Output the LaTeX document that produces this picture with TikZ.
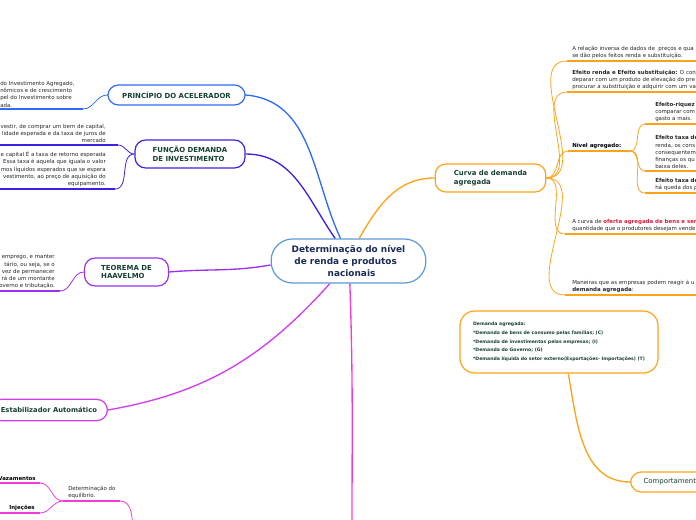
\documentclass[tikz,border=0pt]{standalone}
\usepackage{fontspec}
\setmainfont{DejaVu Sans}
\usetikzlibrary{positioning}

\definecolor{acelblue}{HTML}{2F6BF5}
\definecolor{invviolet}{HTML}{3A22E0}
\definecolor{haavpurple}{HTML}{9B30F0}
\definecolor{estabmag}{HTML}{D23CF0}
\definecolor{pinkmag}{HTML}{F23AD8}
\definecolor{curvorange}{HTML}{FBA31B}
\definecolor{centerblue}{HTML}{5B9BD5}
\definecolor{topicgreen}{HTML}{17402F}
\definecolor{centernavy}{HTML}{1B2A57}
\definecolor{notegray}{HTML}{262626}
\definecolor{ofertared}{HTML}{D8203C}

\tikzset{
  topic/.style={draw, fill=white, rounded corners=8pt, line width=0.9pt, text=topicgreen,
    font=\fontsize{5.2}{6.7}\selectfont\bfseries, align=left, inner sep=0pt},
  note/.style={text=notegray, font=\fontsize{4.1}{5.4}\selectfont, inner sep=0pt},
  uline/.style={line width=1.6pt},
  branch/.style={line width=1pt},
  twig/.style={line width=0.6pt},
}

\begin{document}
\begin{tikzpicture}[x=0.75pt,y=-0.75pt]
\useasboundingbox (0,0) rectangle (696,520);
\clip (0,0) rectangle (696,520);

% central topic
\node[draw=centerblue, fill=white, line width=0.9pt, rounded corners=16pt, minimum width=116pt,
  minimum height=33pt, text=centernavy, font=\fontsize{6.7}{9}\selectfont\bfseries, align=left]
  (ctr) at (348.5,261) {Determinação do nível\\\hspace*{2pt}de renda e produtos\\\hspace*{27pt}nacionais};

% main topics
\node[topic, draw=acelblue, minimum width=103pt, minimum height=15pt, align=center] (acel) at (176.5,95) {PRINCÍPIO DO ACELERADOR};
\node[topic, draw=invviolet, minimum width=82.5pt, minimum height=21pt] (inv) at (190,154) {FUNÇÃO DEMANDA\\DE INVESTIMENTO};
\node[topic, draw=haavpurple, minimum width=63pt, minimum height=21pt] (haav) at (126.5,272) {TEOREMA DE\\HAAVELMO};
\node[topic, draw=estabmag, anchor=east, minimum height=16pt, inner xsep=7.8pt,
  font=\fontsize{5.1}{6.7}\selectfont\bfseries] (estab) at (108,410) {Estabilizador Automático};
\node[topic, draw=curvorange, minimum width=83pt, minimum height=21pt] (curva) at (490.5,178) {Curva de demanda\\agregada};
\node[topic, draw=curvorange, anchor=west, minimum height=15pt, inner xsep=9.75pt,
  font=\fontsize{5.2}{6.7}\selectfont] (comp) at (630,482) {Comportamento};
\node[draw=curvorange, fill=white, line width=0.9pt, rounded corners=11pt, minimum width=148.5pt,
  minimum height=46.5pt, text=topicgreen, font=\fontsize{3.45}{6.5}\selectfont\bfseries, align=left]
  (dem) at (559,342) {Demanda agregada:\\*Demanda de bens de consumo pelas famílias; (C)\\*Demanda de investimentos pelas empresas; (I)\\*Demanda do Governo; (G)\\*Demanda líquida do setor externo(Exportações- Importações) (T)};

% main branches
\draw[branch, acelblue] (acel.east) to[out=-5,in=115] ([xshift=-6pt]ctr.north);
\draw[branch, invviolet] (inv.east) to[out=0,in=125] ([xshift=-10pt]ctr.north);
\draw[branch, haavpurple] (haav.east) to[out=5,in=190] ([yshift=-3pt]ctr.west);
\draw[branch, estabmag] (estab.east) to[out=10,in=228] ([xshift=-14pt]ctr.south);
\coordinate (ctrDown) at (352,530);
\draw[branch, pinkmag] ([xshift=1pt]ctr.south) to[out=-88,in=90] (ctrDown);
\draw[branch, curvorange] ([xshift=8pt]ctr.north) to[out=60,in=180] (curva.west);
\draw[branch, curvorange] ([xshift=7pt]dem.south) to[out=-80,in=180] (comp.west);

% acelerador note
\node[note, anchor=south west, align=left] (acn) at (0,107.5) {do Investimento Agregado,\\nômicos e de crescimento\\pel do Investimento sobre\\ada.};
\coordinate (acnA) at (0,109); \coordinate (acnB) at (83,109);
\draw[uline, acelblue] (acnA) -- (acnB);
\draw[twig, acelblue] (acnB) to[out=0,in=180] (acel.west);

% investimento notes
\node[note, anchor=south east, align=right] (fn1) at (106,143) {vestir, de comprar um bem de capital,\\lidade esperada e da taxa de juros de\\mercado};
\coordinate (fn1A) at (0,145); \coordinate (fn1B) at (118,145);
\draw[uline, invviolet] (fn1A) -- (fn1B);
\draw[twig, invviolet] (fn1B) to[out=0,in=180] (inv.west);
\node[note, anchor=south east, align=right] (fn2) at (106,187) {e capital É a taxa de retorno esperada\\Essa taxa é aquela que iguala o valor\\mos líquidos esperados que se espera\\vestimento, ao preço de aquisição do\\equipamento.};
\coordinate (fn2A) at (0,189); \coordinate (fn2B) at (115,189);
\draw[uline, invviolet] (fn2A) -- (fn2B);
\draw[twig, invviolet] (fn2B) to[out=0,in=180] (inv.west);

% haavelmo note
\node[note, anchor=south east, align=right] (hvn) at (55,289) {emprego, e manter\\tário, ou seja, se o\\vez de permanecer\\rá de um montante\\overno e tributação.};
\coordinate (hvnA) at (0,291); \coordinate (hvnB) at (60,291);
\draw[uline, haavpurple] (hvnA) -- (hvnB);
\draw[twig, haavpurple] (hvnB) to[out=0,in=180] (haav.west);

% equilibrio
\node[note, anchor=south west, align=left] (eqn) at (68,499) {Determinação do\\equilíbrio.};
\coordinate (eqA) at (63,501); \coordinate (eqB) at (120,501); \coordinate (eqDown) at (133,530);
\draw[uline, pinkmag] (eqA) -- (eqB);
\draw[twig, pinkmag] (eqB) to[out=0,in=95] (eqDown);
\node[note, anchor=south east, font=\fontsize{4.1}{5.4}\selectfont\bfseries, text=black] (vaz) at (36,481) {Vazamentos};
\coordinate (vazA) at (0,483); \coordinate (vazB) at (40,483);
\draw[uline, pinkmag] (vazA) -- (vazB);
\draw[twig, pinkmag] (vazB) to[out=0,in=180] (eqA);
\node[note, anchor=south east, font=\fontsize{4.1}{5.4}\selectfont\bfseries, text=black] (inj) at (35,511) {Injeções};
\coordinate (injA) at (0,513); \coordinate (injB) at (40,513);
\draw[uline, pinkmag] (injA) -- (injB);
\draw[twig, pinkmag] (injB) to[out=0,in=180] (eqA);

% curva de demanda notes
\node[note, anchor=south west, align=left] (cv1) at (572,59) {A relação inversa de dados de\ \ preços e qua\\se dão pelos feitos renda e substituição.};
\coordinate (cv1A) at (567,61); \coordinate (cv1B) at (700,61);
\node[note, anchor=south west, align=left] (cv2) at (572,90) {\textbf{Efeito renda e Efeito substituição:} O con\\deparar com um produto de elevação do pre\\procurar a substituição e adquirir com um va};
\coordinate (cv2A) at (567,92); \coordinate (cv2B) at (700,92);
\node[note, anchor=south west, font=\fontsize{4.1}{5.4}\selectfont\bfseries, text=black] (niv) at (572,149) {Nível agregado:};
\coordinate (nivA) at (568,151); \coordinate (nivB) at (630,151);
\node[note, anchor=south west, align=left] (cv4) at (572,232) {A curva de \textcolor{ofertared}{\textbf{oferta agregada de bens e ser}}\\quantidade que o produtores desejam vende};
\coordinate (cv4A) at (565,234); \coordinate (cv4B) at (700,234);
\node[note, anchor=south west, align=left] (cv5) at (572,293) {Maneiras que as empresas podem reagir à u\\\textbf{demanda agregada}:};
\coordinate (cv5A) at (565,295); \coordinate (cv5B) at (700,295);
\foreach \u in {cv1,cv2,niv,cv4,cv5} {
  \draw[uline, curvorange] (\u A) -- (\u B);
  \draw[twig, curvorange] (curva.east) to[out=0,in=180] (\u A);
}

% nivel agregado notes
\node[note, anchor=south west, align=left] (nv1) at (655,122) {\textbf{Efeito-riquez}\\comparar com\\gasto a mais.};
\coordinate (nv1A) at (645,124); \coordinate (nv1B) at (700,124);
\node[note, anchor=south west, align=left] (nv2) at (655,169) {\textbf{Efeito taxa de}\\renda, os cons\\consequenteme\\finanças os qu\\baixa deles.};
\coordinate (nv2A) at (645,171); \coordinate (nv2B) at (700,171);
\node[note, anchor=south west, align=left] (nv3) at (655,191) {\textbf{Efeito taxa de}\\há queda dos p};
\coordinate (nv3A) at (645,193); \coordinate (nv3B) at (700,193);
\foreach \u in {nv1,nv2,nv3} {
  \draw[uline, curvorange] (\u A) -- (\u B);
  \draw[twig, curvorange] (nivB) to[out=0,in=180] (\u A);
}
\end{tikzpicture}
\end{document}
